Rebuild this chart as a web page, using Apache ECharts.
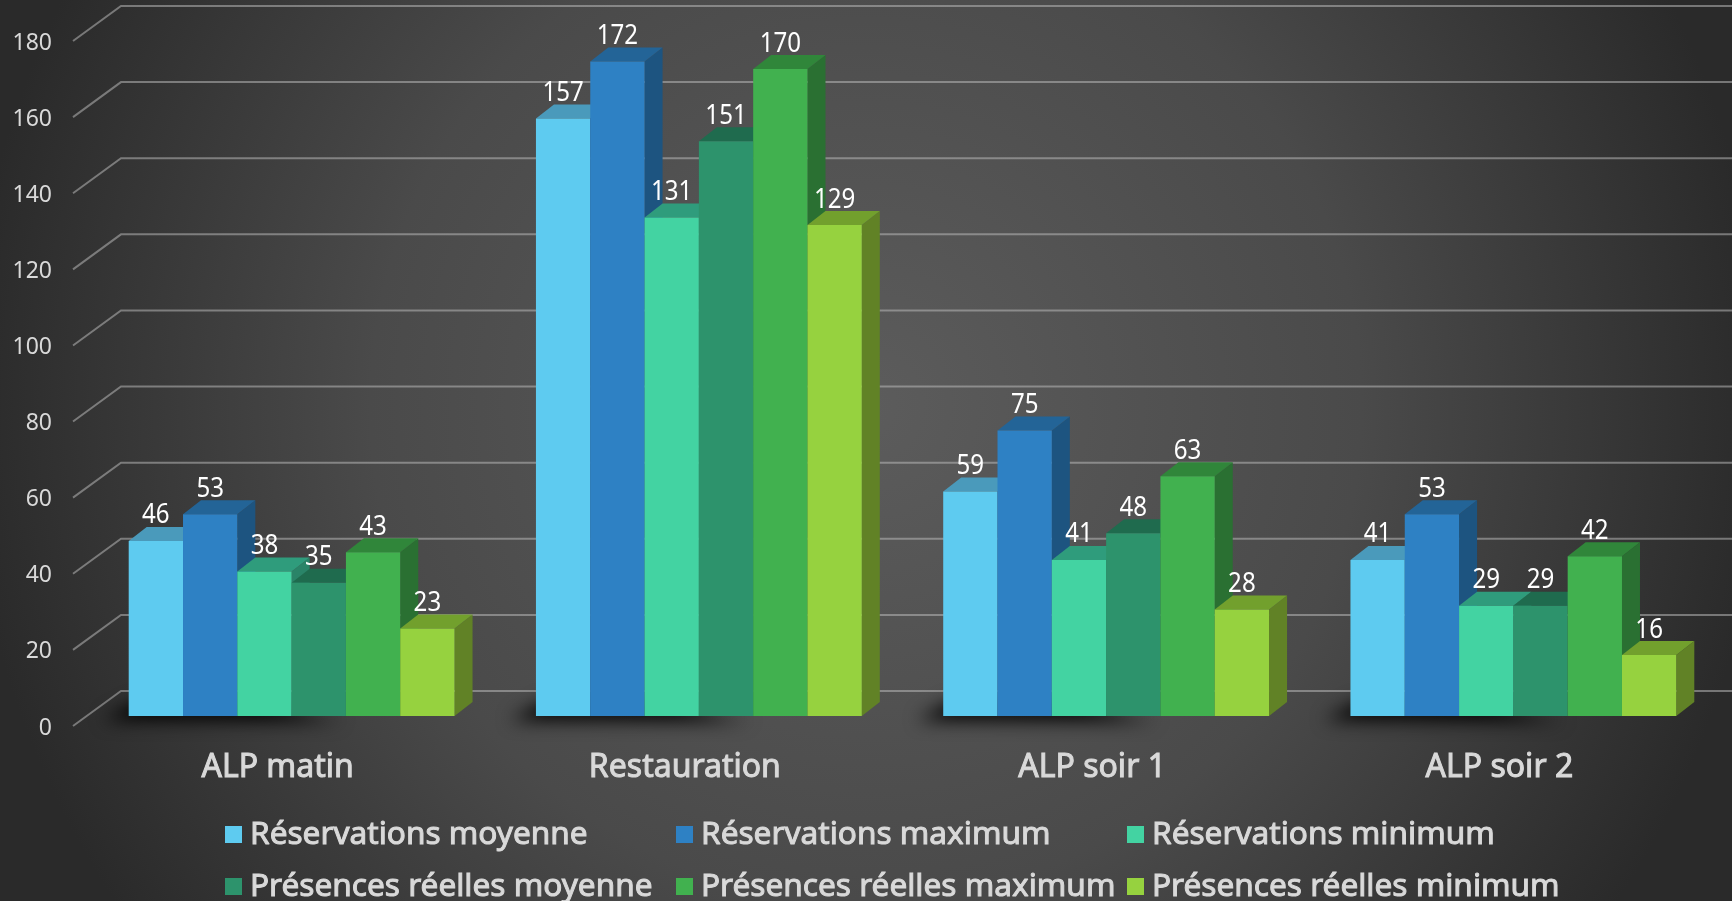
<!DOCTYPE html>
<html><head><meta charset="utf-8"><style>html,body{margin:0;padding:0;background:#333}#c{width:1732px;height:901px}</style>
<script src="https://cdn.jsdelivr.net/npm/echarts@6/dist/echarts.min.js"></script></head><body><div id="c"></div>
<script>
var categories = ['ALP matin','Restauration','ALP soir 1','ALP soir 2'];
var yTicks = [0,20,40,60,80,100,120,140,160,180];
var names = ['Réservations moyenne','Réservations maximum','Réservations minimum','Présences réelles moyenne','Présences réelles maximum','Présences réelles minimum'];
var resMoy = [46,157,59,41];
var resMax = [53,172,75,53];
var resMin = [38,131,41,29];
var preMoy = [35,151,48,29];
var preMax = [43,170,63,42];
var preMin = [23,129,28,16];
var seriesValues = [resMoy,resMax,resMin,preMoy,preMax,preMin];
var front = ['#5ECBF0','#2E81C4','#43D3A2','#2D936C','#41B14F','#96D23F'];
var top_ = ['#4A9ABB','#236497','#2F9C7C','#1F6B4E','#30863A','#72A02D'];
var side = ['#1F5580','#1D5480','#2A8468','#1B5E45','#2A7032','#618226'];

var FONT = '"Noto Sans"';
var WALL = [47,-35], OFF = [14,-10], DEPTH = [18,-14];
var BARFRAC = 54.3/407.2;
var SHIFT = 3000;

function barGeom(api, ci, si, v){
  var band = api.size([1,0])[0], w = band*BARFRAC;
  var p = api.coord([ci, v]), b = api.coord([ci, 0]);
  var x0 = p[0] + OFF[0] + (si-3)*w;
  return {x0:x0, x1:x0+w, yt:p[1]+OFF[1], yb:b[1]+OFF[1], w:w};
}
var series = [];
series.push({type:'custom', coordinateSystem:'cartesian2d', silent:true, z:1, data:yTicks.map(function(v){return [0,v];}), encode:{x:0,y:1},
  renderItem:function(params,api){
    var p = api.coord([0, api.value(1)]), x = params.coordSys.x, y = p[1];
    return {type:'polyline', shape:{points:[[x-1,y],[x+WALL[0],y+WALL[1]],[1760,y+WALL[1]]]}, style:{fill:'none',stroke:'rgba(190,190,190,0.52)',lineWidth:2}};
  }});
series.push({type:'custom', coordinateSystem:'cartesian2d', silent:true, z:2, data:categories.map(function(c,i){return [i,0];}), encode:{x:0,y:1},
  renderItem:function(params,api){
    var g = barGeom(api, api.value(0), 0, 0), x = g.x0 - SHIFT, y = g.yb;
    return {type:'polygon', shape:{points:[[x-26,y+4],[x+8,y-14],[x+130,y-14],[x+190,y+1],[x+215,y+5]]},
      style:{fill:'#000', shadowBlur:18, shadowColor:'rgba(0,0,0,1)', shadowOffsetX:SHIFT}};
  }});
seriesValues.forEach(function(vals, si){
  series.push({name:names[si], type:'custom', coordinateSystem:'cartesian2d', silent:true, z:3+si*0.01, itemStyle:{color:front[si]},
    data:vals.map(function(v,i){return [i,v];}), encode:{x:0,y:1},
    renderItem:function(params,api){
      var g = barGeom(api, api.value(0), si, api.value(1));
      var dx = DEPTH[0], dy = DEPTH[1];
      return {type:'group', children:[
        {type:'polygon', shape:{points:[[g.x1,g.yt],[g.x1+dx,g.yt+dy],[g.x1+dx,g.yb+dy],[g.x1,g.yb]]}, style:{fill:side[si]}},
        {type:'polygon', shape:{points:[[g.x0,g.yt],[g.x0+dx,g.yt+dy],[g.x1+dx,g.yt+dy],[g.x1,g.yt]]}, style:{fill:top_[si]}},
        {type:'rect', shape:{x:g.x0,y:g.yt,width:g.w,height:g.yb-g.yt}, style:{fill:front[si]}}
      ]};
    }});
});
var labelData = [];
seriesValues.forEach(function(vals, si){ vals.forEach(function(v,i){ labelData.push([i,v,si]); }); });
series.push({type:'custom', coordinateSystem:'cartesian2d', silent:true, z:10, data:labelData, encode:{x:0,y:1},
  renderItem:function(params,api){
    var g = barGeom(api, api.value(0), api.value(2), api.value(1));
    return {type:'text', x:(g.x0+g.x1)/2, y:g.yt-25.5, scaleX:0.86, style:{text:String(api.value(1)), x:0, y:0, fill:'#fff', font:'28px '+FONT, align:'center', verticalAlign:'middle'}};
  }});
function legendItem(i, left, top){
  return {left:left, top:top, padding:5, itemWidth:17, itemHeight:17, data:[names[i]], icon:'rect',
    textStyle:{color:'#D9D9D9', fontFamily:FONT, fontSize:31.6, textBorderColor:'#D9D9D9', textBorderWidth:1, padding:[0,0,0,3]}, selectedMode:false};
}
var chart = echarts.init(document.getElementById('c'), null, {renderer:'canvas'});
chart.setOption({
  animation:false,
  backgroundColor:{type:'radial',x:0.5,y:0.45,r:1.0,colorStops:[{offset:0,color:'#5C5C5C'},{offset:0.55,color:'#4A4A4A'},{offset:1,color:'#2A2A2A'}]},
  grid:{left:74,right:29,top:41,bottom:175,containLabel:false},
  legend:[legendItem(0,220,813),legendItem(1,671,813),legendItem(2,1122,813),legendItem(3,220,865),legendItem(4,671,865),legendItem(5,1122,865)],
  xAxis:{type:'category',data:categories,axisLine:{show:false},axisTick:{show:false},splitLine:{show:false},
    axisLabel:{color:'#D9D9D9',fontFamily:FONT,fontSize:32,textBorderColor:'#D9D9D9',textBorderWidth:1,margin:26}},
  yAxis:{type:'value',min:0,max:180,interval:20,data:yTicks,axisLine:{show:false},axisTick:{show:false},splitLine:{show:false},
    axisLabel:{color:'#D9D9D9',fontFamily:FONT,fontSize:23,margin:22,verticalAlign:'top',lineHeight:4}},
  series:series
});
</script></body></html>
